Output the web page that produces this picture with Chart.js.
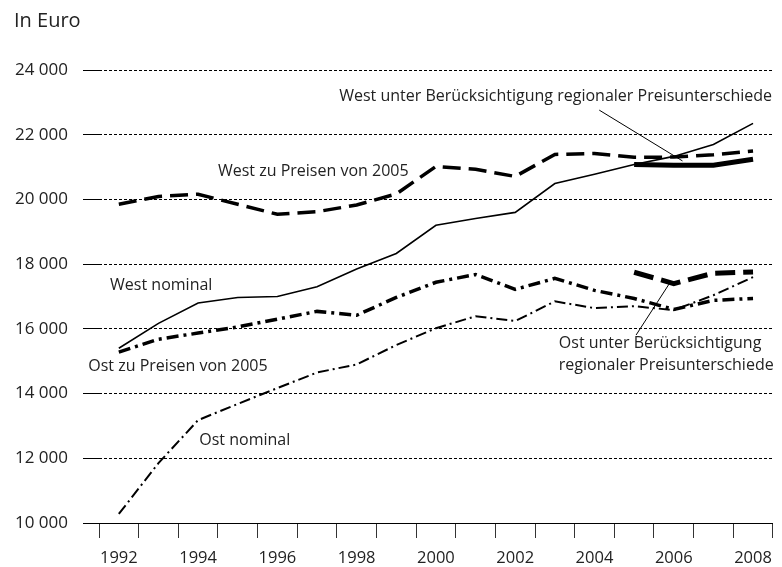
<!DOCTYPE html>
<html lang="de">
<head>
<meta charset="UTF-8">
<title>Einkommen West/Ost</title>
<script src="https://cdn.jsdelivr.net/npm/chart.js"></script>
<style>
  body { margin: 0; background: #fff; }
  #wrap { width: 782px; height: 567px; }
</style>
</head>
<body>
<div id="wrap"><canvas id="myChart" width="782" height="567"></canvas></div>
<script>
// data
const years = [1992, 1993, 1994, 1995, 1996, 1997, 1998, 1999, 2000, 2001, 2002, 2003, 2004, 2005, 2006, 2007, 2008];
const westNominal = [15400, 16170, 16800, 16970, 17000, 17300, 17850, 18330, 19200, 19410, 19600, 20490, 20780, 21080, 21330, 21700, 22350];
const westPreise2005 = [19850, 20090, 20160, 19850, 19540, 19620, 19830, 20170, 21020, 20930, 20710, 21390, 21420, 21300, 21310, 21380, 21500];
const westRegional = [null, null, null, null, null, null, null, null, null, null, null, null, null, 21080, 21060, 21060, 21240];
const ostNominal = [10280, 11850, 13180, 13680, 14170, 14650, 14900, 15500, 16020, 16390, 16240, 16850, 16640, 16700, 16580, 17040, 17600];
const ostPreise2005 = [15280, 15680, 15870, 16060, 16300, 16540, 16420, 16970, 17440, 17680, 17220, 17560, 17190, 16940, 16600, 16880, 16940];
const ostRegional = [null, null, null, null, null, null, null, null, null, null, null, null, null, 17750, 17400, 17720, 17760];
const yTicks = [10000, 12000, 14000, 16000, 18000, 20000, 22000, 24000];

// labels in data units: x = year index, y = euro value
const notes = [
  { text: 'West unter Berücksichtigung regionaler Preisunterschiede', x: 16.48, y: 23170, align: 'right' },
  { text: 'West zu Preisen von 2005', x: 2.5, y: 20880, align: 'left' },
  { text: 'West nominal', x: -0.22, y: 17330, align: 'left' },
  { text: 'Ost zu Preisen von 2005', x: -0.77, y: 14850, align: 'left' },
  { text: 'Ost nominal', x: 2.03, y: 12560, align: 'left' },
  { text: 'Ost unter Berücksichtigung', x: 11.1, y: 15560, align: 'left' },
  { text: 'regionaler Preisunterschiede', x: 11.1, y: 14880, align: 'left' }
];
const leaders = [
  { x1: 12.12, y1: 22760, x2: 14.22, y2: 21190 },
  { x1: 13.05, y1: 15810, x2: 13.9, y2: 17420 }
];

function fmt(v) {
  return String(v).replace(/\B(?=(\d{3})+(?!\d))/g, ' ');
}

const notesPlugin = {
  id: 'notes',
  afterDatasetsDraw(chart) {
    const c = chart.ctx;
    const xs = chart.scales.x, ys = chart.scales.y;
    c.save();
    c.fillStyle = '#222';
    c.font = '16px "Open Sans"';
    c.textBaseline = 'middle';
    notes.forEach(n => {
      c.textAlign = n.align;
      c.fillText(n.text, xs.getPixelForValue(n.x), ys.getPixelForValue(n.y));
    });
    c.strokeStyle = '#000';
    c.lineWidth = 1;
    leaders.forEach(l => {
      c.beginPath();
      c.moveTo(xs.getPixelForValue(l.x1), ys.getPixelForValue(l.y1));
      c.lineTo(xs.getPixelForValue(l.x2), ys.getPixelForValue(l.y2));
      c.stroke();
    });
    // unit label
    c.textAlign = 'left';
    c.font = '20px "Open Sans"';
    c.fillText('In Euro', 14, 21);
    c.restore();
  }
};

function line(data, width, dash) {
  return {
    data: data,
    borderColor: '#000',
    borderWidth: width,
    borderDash: dash,
    borderCapStyle: 'butt',
    borderJoinStyle: 'miter',
    pointRadius: 0,
    tension: 0,
    fill: false,
    spanGaps: false
  };
}

new Chart(document.getElementById('myChart'), {
  type: 'line',
  data: {
    labels: years,
    datasets: [
      line(westNominal, 1.6, []),
      line(westPreise2005, 3.5, [18, 8]),
      line(westRegional, 5, []),
      line(ostNominal, 2, [11, 4, 2, 4]),
      line(ostPreise2005, 3.5, [12, 5, 3, 5]),
      line(ostRegional, 5, [20, 8])
    ]
  },
  options: {
    responsive: false,
    animation: false,
    layout: { padding: { top: 70, right: 3, left: 0, bottom: 0 } },
    plugins: { legend: { display: false }, tooltip: { enabled: false } },
    scales: {
      x: {
        type: 'category',
        offset: true,
        grid: { offset: true, drawOnChartArea: false, drawTicks: true, tickLength: 15, color: '#333' },
        border: { display: true, color: '#000', width: 1 },
        ticks: {
          autoSkip: false,
          maxRotation: 0,
          padding: 10,
          color: '#222',
          font: { family: '"Open Sans"', size: 16.5 },
          callback: (v, i) => (years[i] % 2 === 0 ? String(years[i]) : '')
        },
        afterFit: s => { s.height = 44; }
      },
      y: {
        min: 10000,
        max: 24000,
        afterBuildTicks: s => { s.ticks = yTicks.map(v => ({ value: v })); },
        grid: { color: '#000', lineWidth: 1, tickLength: 16, tickBorderDash: [] },
        border: { display: false, dash: [3, 2] },
        ticks: {
          padding: 15,
          color: '#222',
          font: { family: '"Open Sans"', size: 17 },
          callback: v => fmt(v)
        },
        afterFit: s => { s.width = 99; }
      }
    }
  },
  plugins: [notesPlugin]
});
</script>
</body>
</html>
